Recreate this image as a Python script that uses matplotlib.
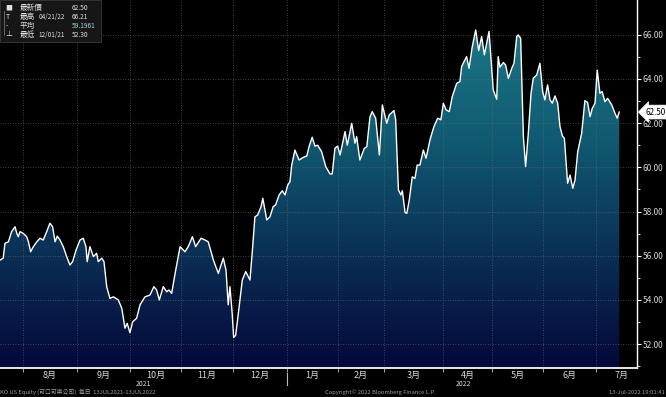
import numpy as np
import matplotlib
matplotlib.use('Agg')
import matplotlib.pyplot as plt
from matplotlib.colors import LinearSegmentedColormap
from matplotlib.patches import Polygon, Rectangle
import matplotlib.transforms as mtransforms

plt.rcParams['font.family'] = ['Noto Sans CJK TC', 'DejaVu Sans']

# KO daily close, x = trading days since start of window
day = [0, 1.3, 2.0, 3.4, 4.7, 6.1, 6.8, 7.4, 8.1, 9.4, 10.8, 11.5, 12.4, 13.5, 14.9, 16.2, 17.5, 18.9,
       20.2, 21.3, 22.3, 23.2, 24.3, 25.6, 27.0, 28.3, 29.4, 30.8, 32.4, 33.7, 34.8, 35.3, 36.4, 37.8,
       39.1, 39.8, 41.2, 42.1, 43.2, 44.5, 45.9, 47.9, 49.3, 50.6, 51.5, 52.6, 53.7, 55.3, 56.7, 58.7,
       60.7, 62.3, 63.4, 64.5,
       66.1, 67.5, 68.4, 69.5, 70.9, 72.9, 74.9, 76.2, 77.9, 79.2, 81.4, 83.0, 84.3, 86.4, 88.4, 90.4,
       91.5, 92.4, 93.1, 94.0, 94.6, 95.4, 96.5, 98.1, 99.5, 101.2, 102.1, 103.2, 104.3, 105.7, 106.4,
       108.0, 109.3, 110.6, 111.6, 113.0, 114.3, 115.4, 116.5, 117.4, 118.1, 119.4, 121.1, 122.8, 124.2,
       125.1, 126.4, 127.5,
       128.6, 130.2, 131.9, 133.6, 134.5, 135.6, 136.7, 137.7, 139.7, 140.6, 142.4, 143.7, 144.4, 145.7,
       147.5, 148.5, 149.8, 150.7, 152.1, 153.6, 154.8, 156.6, 157.6, 159.5, 160.2, 161.3, 162.3, 162.9,
       164.0, 164.7, 165.7, 166.9, 168.0, 168.9, 170.0, 171.4, 172.5, 174.1, 175.7, 177.2, 178.5, 179.5,
       180.6, 181.9, 183.1, 184.9, 186.2, 186.9, 188.9, 189.9, 191.2, 192.6,
       193.8, 195.0, 196.1, 198.0, 199.7, 201.1, 201.7, 202.4, 203.8, 204.7, 205.8, 207.2, 208.1, 209.2,
       209.8, 210.8, 211.9, 212.8, 213.9, 215.0, 215.9, 217.3, 218.6, 219.7, 220.6, 221.7, 222.7, 223.6,
       224.7, 225.8, 226.7, 227.7, 228.5, 229.8, 230.8, 231.9, 232.8, 233.9, 235.5, 236.8, 237.9, 238.9,
       239.8, 240.9, 241.8, 242.9, 243.8, 244.9, 246.0, 247.7, 249.0, 249.9, 250.7]
price = [55.80, 55.89, 56.56, 56.63, 57.09, 57.31, 57.01, 56.86, 57.09, 57.01, 56.86, 56.63, 56.18, 56.41,
         56.63, 56.79, 56.71, 57.09, 57.47, 57.31, 56.63, 56.89, 56.71, 56.41, 55.96, 55.58, 55.73, 56.26,
         56.71, 56.79, 56.41, 55.73, 56.41, 55.96, 56.11, 55.73, 55.89, 55.73, 54.60, 54.07, 54.14, 54.00,
         53.62, 52.72, 52.94, 52.52, 53.01, 53.17, 53.78, 54.14, 54.22, 54.60, 54.45, 54.00,
         54.60, 54.37, 54.45, 54.30, 55.20, 56.41, 56.18, 56.41, 56.86, 56.41, 56.79, 56.71, 56.63, 55.80,
         55.20, 55.89, 55.35, 53.78, 54.60, 53.39, 52.30, 52.40, 53.39, 54.90, 55.28, 54.90, 56.11, 57.76,
         57.84, 58.22, 58.60, 57.62, 57.76, 58.22, 58.30, 58.75, 58.94, 58.75, 59.20, 59.35, 60.10, 60.78,
         60.33, 60.45, 60.51, 60.93, 61.36, 60.96,
         61.00, 60.71, 60.03, 59.70, 59.70, 60.86, 60.96, 60.56, 61.62, 61.00, 61.99, 61.09, 61.39, 60.33,
         60.86, 60.93, 62.29, 62.52, 62.22, 60.56, 62.82, 61.99, 62.37, 62.57, 62.15, 58.98, 58.75, 58.94,
         57.95, 57.92, 58.52, 59.57, 59.50, 60.10, 60.10, 60.78, 60.41, 61.25, 61.85, 62.22, 62.15, 62.90,
         62.60, 62.52, 63.20, 63.80, 63.88, 64.56, 65.01, 64.48, 65.46, 66.21,
         65.28, 65.92, 65.09, 66.15, 63.50, 63.08, 65.01, 64.53, 64.74, 64.63, 64.03, 64.48, 64.71, 65.92,
         65.99, 65.84, 61.39, 60.03, 61.54, 63.35, 64.03, 64.18, 64.71, 63.43, 63.05, 63.73, 63.05, 62.90,
         63.23, 62.90, 61.85, 61.42, 61.31, 59.28, 59.65, 59.05, 59.42, 60.71, 61.54, 63.02, 62.93, 62.29,
         62.67, 62.90, 64.40, 63.35, 63.43, 62.97, 63.12, 62.82, 62.44, 62.22, 62.50]

months = ['8月', '9月', '10月', '11月', '12月', '1月', '2月', '3月', '4月', '5月', '6月', '7月']
month_start = [9.3, 31.2, 52.6, 73.3, 94.3, 116.2, 136.8, 155.5, 179.4, 199.2, 219.8, 241.3]
years = ['2021', '2022']
year_pos = [58.0, 187.5]
y_ticks = [52, 54, 56, 58, 60, 62, 64, 66]

last = 62.50
legend_rows = [('■', '最新價', '', '62.50', '#e0e0e0'),
               ('T', '最高', '04/21/22', '66.21', '#e0e0e0'),
               ('-', '平均', '', '59.1961', '#9fd3ea'),
               ('⊥', '最低', '12/01/21', '52.30', '#e0e0e0')]

x_lo, x_hi = 0, 257.9
y_lo, y_hi = 50.92, 67.57

fig = plt.figure(figsize=(6.66, 3.97), dpi=100, facecolor='black')
ax = fig.add_axes([0, 29 / 397, 637 / 666, 368 / 397])
ax.set_facecolor('black')

# gradient fill under the line
cmap = LinearSegmentedColormap.from_list('ko', ['#04083a', '#0a2f55', '#105a72', '#1c7787'])
grad = np.linspace(0, 1, 256).reshape(-1, 1)
img = ax.imshow(grad, cmap=cmap, aspect='auto', origin='lower',
                extent=[x_lo, x_hi, y_lo, 66.4], zorder=1)
verts = [(day[0], y_lo)] + list(zip(day, price)) + [(day[-1], y_lo)]
clip = Polygon(verts, closed=True, facecolor='none', edgecolor='none')
ax.add_patch(clip)
img.set_clip_path(clip)

# grid
for v in y_ticks:
    ax.axhline(v, color='#6a6a6a', lw=0.6, ls=(0, (1, 2)), zorder=2, alpha=0.8)
for m in month_start:
    ax.axvline(m, color='#6a6a6a', lw=0.6, ls=(0, (1, 2)), zorder=2, alpha=0.8)

ax.plot(day, price, color='white', lw=1.0, zorder=3)

ax.set_xlim(x_lo, x_hi)
ax.set_ylim(y_lo, y_hi)

# y axis on the right
ax.yaxis.tick_right()
ax.set_yticks(y_ticks)
ax.set_yticks(np.arange(51, 67, 2), minor=True)
ax.set_yticklabels(['%.2f' % v for v in y_ticks])
ax.tick_params(axis='y', which='major', colors='white', labelcolor='#d8d8d8', labelsize=6,
               length=3, width=0.8, direction='out', pad=1)
ax.tick_params(axis='y', which='minor', colors='white', length=2, width=0.6)

# month labels centred in each month, ticks at month starts
edges = month_start + [month_start[-1] + 21]
mids = [(edges[i] + edges[i + 1]) / 2 for i in range(len(months))]
ax.set_xticks(mids)
ax.set_xticklabels(months)
ax.set_xticks(month_start, minor=True)
ax.tick_params(axis='x', which='major', length=0, labelsize=6.5, labelcolor='#d8d8d8', pad=2)
ax.tick_params(axis='x', which='minor', length=3, width=0.6, colors='#bbbbbb', direction='out')

for s in ['top', 'left']:
    ax.spines[s].set_visible(False)
ax.spines['right'].set_color('white')
ax.spines['right'].set_linewidth(1.0)
ax.spines['bottom'].set_color('#e8e8e8')
ax.spines['bottom'].set_linewidth(1.4)

trans = mtransforms.blended_transform_factory(ax.transData, ax.transAxes)
for yl, yp in zip(years, year_pos):
    ax.text(yp, -0.044, yl, transform=trans, ha='center', va='center', fontsize=5,
            color='#d8d8d8', clip_on=False)
ax.plot([116.2, 116.2], [-0.014, -0.046], transform=trans, color='#bbbbbb', lw=0.8, clip_on=False)

# last price tag
ttrans = mtransforms.blended_transform_factory(ax.transAxes, ax.transData)
ax.text(1.014, last, '%.2f' % last, transform=ttrans, ha='left', va='center', fontsize=5.8,
        color='black', clip_on=False, zorder=6,
        bbox=dict(boxstyle='larrow,pad=0.3', fc='white', ec='white', lw=0.5))

# legend box top-left
ax.add_patch(Rectangle((0, 0.885), 0.158, 0.115, transform=ax.transAxes, facecolor='#161616',
                       edgecolor='#3a3a3a', lw=0.6, zorder=5))
ax.plot([0.006, 0.006], [0.97, 0.905], transform=ax.transAxes, color='#888888', lw=0.5, zorder=6)
row_y = [0.978, 0.953, 0.929, 0.906]
for (mk, name, date, val, col), ry in zip(legend_rows, row_y):
    ax.text(0.009, ry, mk, transform=ax.transAxes, fontsize=5, color='#e0e0e0', va='center',
            ha='left', zorder=6)
    ax.text(0.031, ry, name, transform=ax.transAxes, fontsize=5.5, color='#e0e0e0', va='center',
            ha='left', zorder=6)
    if date:
        ax.text(0.060, ry, date, transform=ax.transAxes, fontsize=4.6, color='#e0e0e0', va='center',
                ha='left', zorder=6)
    ax.text(0.113, ry, val, transform=ax.transAxes, fontsize=4.8, color=col, va='center',
            ha='left', zorder=6)

# footer
fig.text(0.0, 0.004, 'KO US Equity (可口可樂公司)  每日  13JUL2021-13JUL2022', fontsize=4.2,
         color='#a0a0a0', ha='left', va='bottom')
fig.text(0.488, 0.004, 'Copyright© 2022 Bloomberg Finance L.P.', fontsize=4.2,
         color='#a0a0a0', ha='left', va='bottom')
fig.text(0.998, 0.004, '13-Jul-2022 19:01:41', fontsize=4.2, color='#a0a0a0', ha='right', va='bottom')

fig.savefig('out.png', dpi=100, facecolor='black')
